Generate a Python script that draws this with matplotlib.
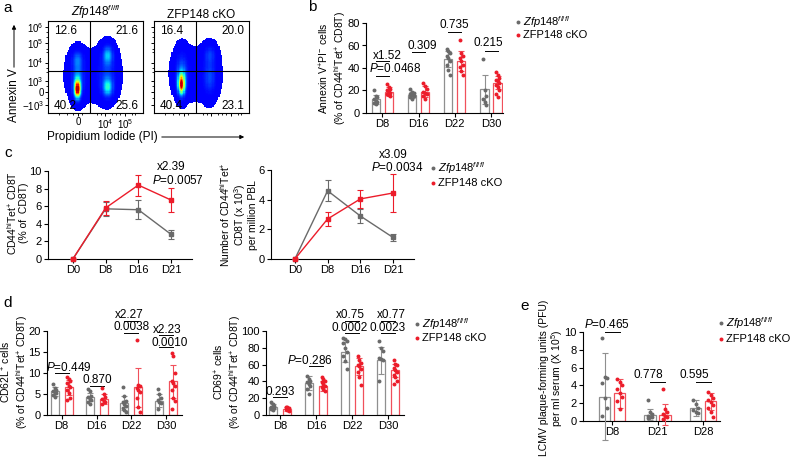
import numpy as np
import matplotlib
matplotlib.use("Agg")
import matplotlib.pyplot as plt
from matplotlib.colors import ListedColormap, PowerNorm

plt.rcParams['font.family'] = ['Liberation Sans', 'DejaVu Sans']
plt.rcParams['mathtext.fontset'] = 'custom'
plt.rcParams['mathtext.rm'] = 'Liberation Sans'
plt.rcParams['mathtext.it'] = 'Liberation Sans:italic'
plt.rcParams['mathtext.bf'] = 'Liberation Sans:bold'
plt.rcParams['font.size'] = 8
plt.rcParams['axes.linewidth'] = 0.8

W, H = 791, 465
GREY = '#6a6a6a'
GREY_BAR = '#8f8f8f'
RED = '#ec1c2a'
RED_BAR = '#f0505b'
FLOW_CMAP = ListedColormap(plt.cm.jet(np.linspace(0.12, 0.95, 256)))

WT = r'$\mathit{Zfp148}^{\mathit{fl/fl}}$'
KO = 'ZFP148 cKO'

# ---------------- data ----------------
# a: flow plots (quadrant %: UL, UR, LL, LR)
quad_wt = ['12.6', '21.6', '40.2', '25.6']
quad_ko = ['16.4', '20.0', '40.4', '23.1']
# cell populations: x, y, sx, sy, weight (axes fraction)
blobs_wt = [(0.31, 0.25, 0.03, 0.08, 1.0), (0.31, 0.40, 0.05, 0.17, 0.45),
            (0.31, 0.60, 0.05, 0.07, 0.3), (0.63, 0.27, 0.045, 0.08, 0.55),
            (0.63, 0.64, 0.045, 0.08, 0.5), (0.63, 0.45, 0.07, 0.20, 0.3),
            (0.46, 0.40, 0.20, 0.20, 0.2)]
blobs_ko = [(0.29, 0.30, 0.03, 0.09, 1.0), (0.29, 0.45, 0.05, 0.17, 0.45),
            (0.59, 0.38, 0.05, 0.15, 0.4), (0.59, 0.65, 0.05, 0.08, 0.35),
            (0.44, 0.42, 0.19, 0.21, 0.2)]
flow_yticks = [0.935, 0.763, 0.548, 0.345, 0.225, 0.086]
flow_ylabels = [r'$10^6$', r'$10^5$', r'$10^4$', r'$10^3$', '0', r'$-10^3$']
flow_xticks = [0.316, 0.60, 0.81]
flow_xlabels = ['0', r'$10^4$', r'$10^5$']

# b: Annexin V+PI- cells
b_days = ['D8', 'D16', 'D22', 'D30']
b_wt_mean = [12, 16, 48, 21]
b_wt_sd = [4, 3, 7, 13]
b_ko_mean = [19, 19, 46, 27]
b_ko_sd = [4, 5, 9, 6]
b_wt_dots = [[20, 15, 14, 12, 11, 10, 9, 8], [21, 19, 18, 17, 16, 15, 14, 12],
             [57, 55, 53, 51, 49, 46, 43, 38, 34], [48, 20, 15, 12, 10, 7]]
b_ko_dots = [[26, 23, 21, 20, 19, 18, 17, 16, 15], [27, 24, 21, 19, 18, 17, 15, 12],
             [65, 53, 51, 49, 46, 43, 41, 37, 34], [36, 34, 31, 29, 28, 27, 25, 23, 20, 17, 14]]

# c: kinetics
c_days = ['D0', 'D8', 'D16', 'D21']
c_pct_wt = [0, 5.7, 5.6, 2.8]
c_pct_wt_err = [0, 0.8, 1.1, 0.55]
c_pct_ko = [0, 5.8, 8.4, 6.7]
c_pct_ko_err = [0, 0.8, 1.2, 1.4]
c_num_wt = [0, 4.6, 2.9, 1.45]
c_num_wt_err = [0, 0.7, 0.5, 0.25]
c_num_ko = [0, 2.7, 4.05, 4.45]
c_num_ko_err = [0, 0.5, 0.6, 1.3]

# d: CD62L+ and CD69+
d_days = ['D8', 'D16', 'D22', 'D30']
dl_wt_mean = [5.6, 4.3, 2.8, 3.4]
dl_wt_sd = [1.0, 1.0, 1.7, 1.5]
dl_ko_mean = [6.6, 3.8, 6.6, 8.0]
dl_ko_sd = [1.8, 1.2, 4.7, 4.0]
dl_wt_dots = [[7.3, 6.4, 6.0, 5.8, 5.5, 5.2, 4.8, 4.3], [6.2, 5.6, 4.6, 4.2, 3.9, 3.6, 3.2, 2.6],
              [6.6, 4.6, 3.4, 3.0, 2.6, 2.2, 1.6, 1.2, 0.8], [6.3, 5.0, 4.0, 3.6, 3.2, 2.9, 1.5]]
dl_ko_dots = [[9.0, 8.6, 8.0, 7.6, 7.0, 6.6, 6.0, 5.2, 4.0, 3.5], [6.4, 5.0, 4.2, 3.8, 3.4, 3.0, 2.6],
              [17.8, 7.2, 6.9, 6.5, 6.0, 5.5, 4.0, 2.0, 0.8], [14.7, 14.0, 10.0, 8.0, 7.6, 7.0, 6.0, 4.0, 3.4, 1.5]]
dr_wt_mean = [10, 38, 75, 65]
dr_wt_sd = [3, 8, 12, 16]
dr_ko_mean = [7, 35, 58, 53]
dr_ko_sd = [2, 6, 10, 8]
dr_wt_dots = [[16, 13, 11, 10, 9, 8, 7, 6], [47, 43, 41, 39, 37, 35, 31, 25],
              [92, 90, 88, 86, 80, 75, 70, 64, 55], [88, 80, 76, 68, 67, 66, 40]]
dr_ko_dots = [[10, 9, 8, 7, 6, 5], [45, 43, 41, 39, 37, 35, 33, 31, 29],
              [70, 66, 62, 60, 58, 55, 51, 45, 36], [65, 61, 59, 56, 53, 51, 48, 45, 41, 37]]

# e: LCMV PFU
e_days = ['D8', 'D21', 'D28']
e_wt_mean = [2.75, 0.7, 1.5]
e_wt_sd = [4.85, 0.6, 0.9]
e_ko_mean = [3.1, 0.7, 2.2]
e_ko_sd = [1.6, 1.2, 1.0]
e_wt_dots = [[9.3, 4.9, 4.8, 4.3, 2.6, 1.5, 0.6], [2.4, 1.0, 0.8, 0.6, 0.5, 0.4, 0.3],
             [2.4, 1.9, 1.5, 1.2, 1.0, 0.9]]
e_ko_dots = [[4.7, 4.4, 4.1, 3.6, 3.1, 2.7, 2.3, 1.4], [3.6, 1.4, 1.0, 0.8, 0.6, 0.4, 0.2],
             [3.3, 2.9, 2.6, 2.4, 2.1, 1.8, 1.5, 1.0, 0.5]]

# annotations: (x in category units, y value, text); lines: (category, y value)
b_text = [(0.14, 51, 'x1.52'), (0.36, 40, r'$\mathit{P}$=0.0468'), (1.1, 60, '0.309'),
          (2.0, 78, '0.735'), (2.92, 62, '0.215')]
b_lines = [(0, 46), (0, 33), (1, 54), (2, 72), (3, 55)]
dl_text = [(0.2, 11.4, r'$\mathit{P}$=0.449'), (1.02, 8.3, '0.870'), (1.95, 23.8, 'x2.27'),
           (2.0, 21.0, '0.0038'), (3.03, 20.2, 'x2.23'), (3.09, 17.1, '0.0010')]
dl_lines = [(0, 10.0), (1, 6.9), (2, 22.4), (2, 19.5), (3, 19.0), (3, 16.2)]
dr_text = [(0.0, 27, '0.293'), (0.83, 65, r'$\mathit{P}$=0.286'), (1.94, 119, 'x0.75'),
           (1.94, 104, '0.0002'), (3.1, 119, 'x0.77'), (2.97, 104, '0.0023')]
dr_lines = [(0, 21), (1, 58), (2, 112), (2, 98), (3, 112), (3, 98)]
e_text = [(-0.11, 10.8, r'$\mathit{P}$=0.465'), (0.79, 5.2, '0.778'), (1.8, 5.2, '0.595')]
e_lines = [(0, 10.0), (1, 4.4), (2, 4.4)]

fig = plt.figure(figsize=(W / 100, H / 100), dpi=100)


def px_axes(l, t, r, b):
    return fig.add_axes([l / W, 1 - b / H, (r - l) / W, (b - t) / H])


def style(ax):
    ax.spines['top'].set_visible(False)
    ax.spines['right'].set_visible(False)
    ax.tick_params(length=3, width=0.8, labelsize=8, pad=1.5)


def flow(ax, blobs, quads, title, labels):
    g = np.linspace(0, 1, 80)
    X, Y = np.meshgrid(g, g)
    D = np.zeros_like(X)
    for x0, y0, sx, sy, w in blobs:
        D += w * np.exp(-((X - x0) ** 2 / (2 * sx ** 2) + (Y - y0) ** 2 / (2 * sy ** 2)))
    D = D / D.max()
    D = np.ma.masked_less(D, 0.05)
    ax.pcolormesh(g, g, D, cmap=FLOW_CMAP, norm=PowerNorm(gamma=2.3, vmin=0.05, vmax=0.95),
                  shading='nearest')
    ax.axvline(0.442, color='k', lw=0.8)
    ax.axhline(0.452, color='k', lw=0.8)
    ax.set_xlim(0, 1)
    ax.set_ylim(0, 1)
    ax.set_yticks(flow_yticks)
    ax.set_xticks(flow_xticks)
    ax.set_xticks([0.12, 0.2, 0.26, 0.36, 0.52, 0.56, 0.67, 0.72, 0.76, 0.88, 0.92], minor=True)
    ax.set_yticks([0.88, 0.83, 0.70, 0.66, 0.49, 0.45, 0.29, 0.16], minor=True)
    ax.tick_params(length=2.5, width=0.7, labelsize=7, pad=0.5)
    ax.tick_params(which='minor', length=1.5, width=0.6)
    if labels:
        ax.set_yticklabels(flow_ylabels)
        ax.set_xticklabels(flow_xlabels)
    else:
        ax.set_yticklabels([])
        ax.set_xticklabels([])
    ax.text(0.06, 0.89, quads[0], transform=ax.transAxes, fontsize=8.5, va='center')
    ax.text(0.95, 0.89, quads[1], transform=ax.transAxes, fontsize=8.5, va='center', ha='right')
    ax.text(0.06, 0.08, quads[2], transform=ax.transAxes, fontsize=8.5, va='center')
    ax.text(0.95, 0.08, quads[3], transform=ax.transAxes, fontsize=8.5, va='center', ha='right')
    ax.set_title(title, fontsize=8.5, pad=2)


def bar_panel(ax, days, wm, ws, wd, km, ks, kd, off, bw, dx, ylim, yticks, xlim):
    x = np.arange(len(days))
    for sign, mean, sd, dots, edge, dc in [(-1, wm, ws, wd, GREY_BAR, GREY), (1, km, ks, kd, RED_BAR, RED)]:
        xs = x + sign * off
        ax.bar(xs, mean, width=bw, facecolor='white', edgecolor=edge, linewidth=0.9, zorder=2)
        ax.errorbar(xs, mean, yerr=sd, fmt='none', ecolor=edge, elinewidth=0.8,
                    capsize=2, capthick=0.8, zorder=3, clip_on=False)
        for i, d in enumerate(dots):
            jit = (np.arange(len(d)) % 3 - 1) * dx
            ax.scatter(xs[i] + jit, d, s=8, color=dc, zorder=4, linewidths=0, clip_on=False)
    ax.set_xticks(x)
    ax.set_xticklabels(days)
    ax.set_xlim(*xlim)
    ax.set_ylim(*ylim)
    ax.set_yticks(yticks)
    style(ax)


def annotate(ax, texts, lines, off):
    for x, y, t in texts:
        ax.text(x, y, t, ha='center', va='center', fontsize=8.5, clip_on=False)
    for c, y in lines:
        ax.plot([c - off, c + off], [y, y], color='k', lw=0.7, clip_on=False)


# ---------------- a ----------------
ax1 = px_axes(48, 21, 143, 113)
flow(ax1, blobs_wt, quad_wt, WT, True)
ax2 = px_axes(154, 21, 249, 113)
flow(ax2, blobs_ko, quad_ko, KO, False)

# ---------------- b ----------------
axb = px_axes(366, 23, 503, 113)
bar_panel(axb, b_days, b_wt_mean, b_wt_sd, b_wt_dots, b_ko_mean, b_ko_sd, b_ko_dots,
          0.18, 0.23, 0.045, (0, 80), [0, 20, 40, 60, 80], (-0.45, 3.33))
annotate(axb, b_text, b_lines, 0.18)

# ---------------- c ----------------
def line_panel(ax, wt, wte, ko, koe, ylim, yticks, xlim):
    x = np.arange(len(c_days))
    ax.errorbar(x, wt, yerr=wte, color=GREY, lw=1, marker='s', ms=2.5, capsize=2,
                elinewidth=0.8, capthick=0.8, clip_on=False, zorder=3)
    ax.errorbar(x, ko, yerr=koe, color=RED, lw=1, marker='s', ms=2.5, capsize=2,
                elinewidth=0.8, capthick=0.8, clip_on=False, zorder=4)
    ax.set_xticks(x)
    ax.set_xticklabels(c_days)
    ax.set_xlim(*xlim)
    ax.set_ylim(*ylim)
    ax.set_yticks(yticks)
    style(ax)


axc1 = px_axes(48, 171, 192, 259)
line_panel(axc1, c_pct_wt, c_pct_wt_err, c_pct_ko, c_pct_ko_err, (0, 10), [0, 2, 4, 6, 8, 10], (-0.76, 3.64))
axc1.text(3.0, 10.5, 'x2.39', ha='center', va='center', fontsize=8.5, clip_on=False)
axc1.text(3.2, 8.9, r'$\mathit{P}$=0.0057', ha='center', va='center', fontsize=8.5, clip_on=False)

axc2 = px_axes(271, 170, 414, 259)
line_panel(axc2, c_num_wt, c_num_wt_err, c_num_ko, c_num_ko_err, (0, 6), [0, 2, 4, 6], (-0.73, 3.64))
axc2.text(3.0, 7.0, 'x3.09', ha='center', va='center', fontsize=8.5, clip_on=False)
axc2.text(3.12, 6.15, r'$\mathit{P}$=0.0034', ha='center', va='center', fontsize=8.5, clip_on=False)

# ---------------- d ----------------
axd1 = px_axes(47, 331, 182, 415)
bar_panel(axd1, d_days, dl_wt_mean, dl_wt_sd, dl_wt_dots, dl_ko_mean, dl_ko_sd, dl_ko_dots,
          0.2, 0.23, 0.045, (0, 20), [0, 5, 10, 15, 20], (-0.42, 3.45))
annotate(axd1, dl_text, dl_lines, 0.2)

axd2 = px_axes(266, 331, 404, 415)
bar_panel(axd2, d_days, dr_wt_mean, dr_wt_sd, dr_wt_dots, dr_ko_mean, dr_ko_sd, dr_ko_dots,
          0.2, 0.23, 0.045, (0, 100), [0, 20, 40, 60, 80, 100], (-0.39, 3.44))
annotate(axd2, dr_text, dr_lines, 0.2)

# ---------------- e ----------------
axe = px_axes(583, 332, 720, 421)
bar_panel(axe, e_days, e_wt_mean, e_wt_sd, e_wt_dots, e_ko_mean, e_ko_sd, e_ko_dots,
          0.165, 0.25, 0.05, (0, 10), [0, 2, 4, 6, 8, 10], (-0.64, 2.37))
annotate(axe, e_text, e_lines, 0.165)

# ---------------- overlay: letters, labels, legends ----------------
ov = fig.add_axes([0, 0, 1, 1])
ov.set_xlim(0, W)
ov.set_ylim(H, 0)
ov.axis('off')

for x, y, s in [(8, 8, 'a'), (312, 7, 'b'), (8, 153, 'c'), (8, 303, 'd'), (525, 306, 'e')]:
    ov.text(x, y, s, fontsize=11, ha='center', va='center')

ov.text(14, 95, 'Annexin V', rotation=90, ha='center', va='center', fontsize=8.5)
ov.annotate('', xy=(14, 22), xytext=(14, 70),
            arrowprops=dict(arrowstyle='-|>', lw=0.7, color='k', mutation_scale=6))
ov.text(102, 137, 'Propidium Iodide (PI)', ha='center', va='center', fontsize=8.5)
ov.annotate('', xy=(247, 137), xytext=(159, 137),
            arrowprops=dict(arrowstyle='-|>', lw=0.7, color='k', mutation_scale=6))

ylab_kw = dict(rotation=90, ha='center', va='center', fontsize=7.5, multialignment='center',
               linespacing=1.05)
ov.text(333, 68, 'Annexin V$^{+}$PI$^{-}$ cells\n(% of CD44$^{\\rm hi}$Tet$^{+}$ CD8T)', **ylab_kw)
ov.text(17, 213, 'CD44$^{\\rm hi}$Tet$^{+}$ CD8T\n(% of  CD8T)', **ylab_kw)
ov.text(238, 215, 'Number of CD44$^{\\rm hi}$Tet$^{+}$\nCD8T (x 10$^{3}$)\nper million PBL', **ylab_kw)
ov.text(15, 372, 'CD62L$^{+}$ cells\n(% of CD44$^{\\rm hi}$Tet$^{+}$ CD8T)', **ylab_kw)
ov.text(228, 372, 'CD69$^{+}$ cells\n(% of CD44$^{\\rm hi}$Tet$^{+}$ CD8T)', **ylab_kw)
ov.text(552, 378, 'LCMV plaque-forming units (PFU)\nper ml serum (X 10$^{5}$)', **ylab_kw)

legend_pos = [(518, 22, 35), (433, 168, 183), (417, 324, 338), (721, 323, 339)]
for lx, y1, y2 in legend_pos:
    ov.scatter([lx], [y1], s=8, color=GREY, linewidths=0)
    ov.scatter([lx], [y2], s=8, color=RED, linewidths=0)
    ov.text(lx + 5, y1, WT, va='center', ha='left', fontsize=8)
    ov.text(lx + 5, y2, KO, va='center', ha='left', fontsize=8)

fig.savefig('out.png', dpi=100)
